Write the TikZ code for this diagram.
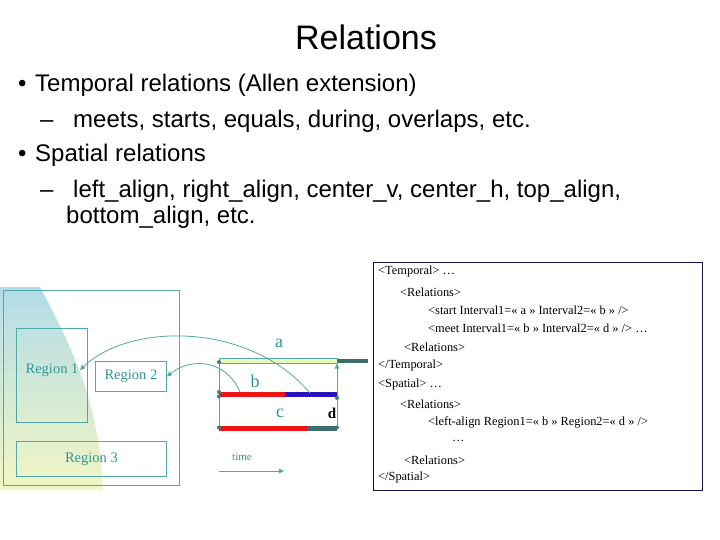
\documentclass[tikz,border=0pt]{standalone}
\usepackage{fontspec}
\setmainfont{Liberation Serif}
\newfontfamily\arial{Liberation Sans}
\usetikzlibrary{arrows.meta}
\definecolor{tealline}{RGB}{80,168,168}
\definecolor{tealtext}{RGB}{45,150,150}
\definecolor{darkbar}{RGB}{60,110,110}
\definecolor{redbar}{RGB}{240,20,20}
\definecolor{bluebar}{RGB}{40,20,190}
\definecolor{lightbar}{RGB}{235,250,185}
\definecolor{navy}{RGB}{20,20,70}
\definecolor{shadetop}{RGB}{178,220,232}
\definecolor{shadebot}{RGB}{242,246,196}
\tikzset{
  bullettext/.style={font=\arial\fontsize{24}{28}\selectfont, anchor=base west, inner sep=0},
  codeline/.style={font=\fontsize{12.4}{14}\selectfont, anchor=west, inner sep=0},
  regbox/.style={draw=tealline, line width=0.9pt, inner sep=0, anchor=north west},
  regtext/.style={font=\fontsize{14.5}{16}\selectfont, text=tealtext, inner sep=0},
  barlabel/.style={font=\fontsize{18}{20}\selectfont, text=tealtext, inner sep=0},
  conn/.style={draw=tealline, line width=0.8pt, -{Triangle[length=5pt,width=4.5pt]}},
  tdot/.style={circle, fill=darkbar!80!tealline, inner sep=0, minimum size=4pt},
}
\begin{document}
\begin{tikzpicture}[x=1pt,y=-1pt]
\useasboundingbox (0,0) rectangle (720,540);
% title
\node[font=\arial\fontsize{34}{40}\selectfont, inner sep=0] (title) at (366,37) {Relations};
% bullets
\node[bullettext] (b1) at (18,92) {•};
\node[bullettext] (t1) at (35,92) {Temporal relations (Allen extension)};
\node[bullettext] (d1) at (40,128) {–};
\node[bullettext] (t2) at (73,128) {meets, starts, equals, during, overlaps, etc.};
\node[bullettext] (b2) at (18,162) {•};
\node[bullettext] (t3) at (35,162) {Spatial relations};
\node[bullettext] (d2) at (40,198) {–};
\node[bullettext] (t4) at (73,198) {left\_align, right\_align, center\_v, center\_h, top\_align,};
\node[bullettext] (t5) at (66,224) {bottom\_align, etc.};
% shaded area
\shade[top color=shadetop, bottom color=shadebot] (0,287) -- (40,287) .. controls (68,340) and (100,400) .. (103,490) -- (0,490) -- cycle;
% region frames
\node[regbox, minimum width=176pt, minimum height=195pt] (frame) at (3,290) {};
\node[regbox, minimum width=71pt, minimum height=94pt] (r1) at (16,328) {};
\node[regtext] (r1t) at (52,370) {Region 1};
\node[regbox, minimum width=71pt, minimum height=30pt, regtext, draw=tealline] (r2) at (95,361) {\makebox[71pt]{Region 2}};
\node[regbox, minimum width=150pt, minimum height=35pt, regtext, draw=tealline] (r3) at (16,441) {\makebox[146pt]{Region 3}};
% timeline bars
\coordinate (aL) at (219,361);
\coordinate (aR) at (337,361);
\coordinate (aE) at (368,361);
\coordinate (bL) at (219,394.5);
\coordinate (bM) at (285,394.5);
\coordinate (bR) at (337,394.5);
\coordinate (cL) at (219,428.5);
\coordinate (cM) at (307,428.5);
\coordinate (cR) at (337,428.5);
\draw[tealline, line width=0.9pt] (aL) -- (cL);
\draw[tealline, line width=0.9pt, -{Triangle[length=5pt,width=4.5pt]}] (cR) -- (337,363.5);
\fill[lightbar] (219,358.5) rectangle (337,363.5);
\draw[tealline, line width=0.6pt] (219,358.5) rectangle (337,363.5);
\fill[darkbar] (337,359) rectangle (368,363);
\fill[redbar] (219,392) rectangle (285,397);
\fill[bluebar] (285,392) rectangle (337,397);
\fill[redbar] (219,426) rectangle (307,431);
\fill[darkbar] (307,426) rectangle (337,431);
\node[tdot] at (219,362) {};
\node[tdot] at (219,392) {};
\node[tdot] at (219,396.5) {};
\node[tdot] at (219,427.5) {};
\node[tdot] at (337,398) {};
\node[tdot] at (337,427.5) {};
\node[barlabel] (la) at (279,343) {a};
\node[barlabel] (lb) at (255,381) {b};
\node[barlabel] (lc) at (280,413) {c};
\node[font=\bfseries\fontsize{15}{16}\selectfont, inner sep=0] (ld) at (332,413) {d};
% curves
\coordinate (bblue) at (310,393);
\coordinate (bred) at (240,392);
\coordinate (r1tip) at (80,370);
\draw[conn] (bblue) .. controls (250,322) and (130,322) .. (r1tip);
\draw[conn] (bred) .. controls (225,358) and (190,358) .. (r2.east);
% time arrow
\node[font=\fontsize{11}{12}\selectfont, text=tealtext, inner sep=0] (time) at (242,457) {time};
\coordinate (tA) at (219,471);
\coordinate (tB) at (284,471);
\draw[conn] (tA) -- (tB);
% code box
\node[draw=navy, line width=1.2pt, minimum width=329pt, minimum height=228pt, anchor=north west, inner sep=0] (codebox) at (373,262) {};
\node[codeline] (l1) at (378,272) {<Temporal> …};
\node[codeline] (l2) at (400,292) {<Relations>};
\node[codeline] (l3) at (428,310) {<start Interval1=« a » Interval2=« b » />};
\node[codeline] (l4) at (428,328) {<meet Interval1=« b » Interval2=« d » /> …};
\node[codeline] (l5) at (404,347) {<Relations>};
\node[codeline] (l6) at (378,366) {</Temporal>};
\node[codeline] (l7) at (378,385) {<Spatial> …};
\node[codeline] (l8) at (400,404) {<Relations>};
\node[codeline] (l9) at (428,422) {<left-align Region1=« b » Region2=« d » />};
\node[codeline] (l10) at (452,441) {…};
\node[codeline] (l11) at (404,460) {<Relations>};
\node[codeline] (l12) at (378,478) {</Spatial>};
\end{tikzpicture}
\end{document}
